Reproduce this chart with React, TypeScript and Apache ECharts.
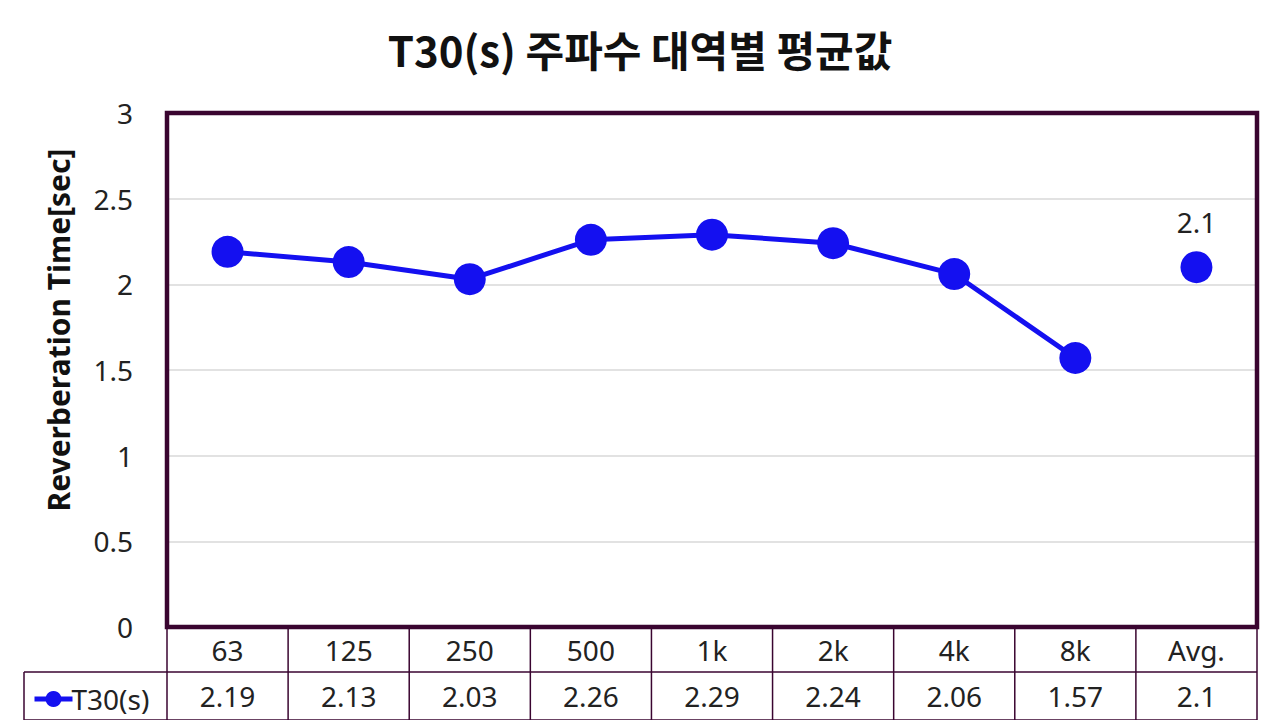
import React, { useEffect, useRef } from "react";
import * as echarts from "echarts";

const categories = ["63", "125", "250", "500", "1k", "2k", "4k", "8k", "Avg."];
const bandValues = [2.19, 2.13, 2.03, 2.26, 2.29, 2.24, 2.06, 1.57];
const avgValue = 2.1;
const tableValues = ["2.19", "2.13", "2.03", "2.26", "2.29", "2.24", "2.06", "1.57", "2.1"];
const seriesName = "T30(s)";
const titleText = "T30(s) 주파수 대역별 평균값";
const yAxisTitle = "Reverberation Time[sec]";

const W = 1280;
const H = 728;
const G_LEFT = 167;
const G_TOP = 113;
const G_RIGHT = 23;
const G_BOTTOM = 101;
const ROW1 = 45;
const ROW2 = 48;
const LEG_LEFT = 24;
const BORDER = "#3a0530";
const BLUE = "#1410f0";
const FONT = "'Noto Sans', 'Noto Sans CJK KR', sans-serif";
const TXT = 28;

export default function App() {
  const ref = useRef<HTMLDivElement>(null);
  useEffect(() => {
    if (!ref.current) return;
    const chart = echarts.init(ref.current, undefined, { renderer: "svg" });
    const plotRight = W - G_RIGHT;
    const plotBottom = H - G_BOTTOM;
    const colW = (plotRight - G_LEFT) / categories.length;
    const lines: any[] = [];
    const ls = { stroke: BORDER, lineWidth: 1.5 };
    lines.push({ type: "line", shape: { x1: LEG_LEFT, y1: plotBottom + ROW1, x2: plotRight, y2: plotBottom + ROW1 }, style: ls });
    lines.push({ type: "line", shape: { x1: LEG_LEFT, y1: plotBottom + ROW1 + ROW2, x2: plotRight, y2: plotBottom + ROW1 + ROW2 }, style: ls });
    lines.push({ type: "line", shape: { x1: LEG_LEFT, y1: plotBottom + ROW1, x2: LEG_LEFT, y2: plotBottom + ROW1 + ROW2 }, style: ls });
    for (let k = 0; k <= categories.length; k++) {
      const x = G_LEFT + k * colW;
      lines.push({ type: "line", shape: { x1: x, y1: plotBottom, x2: x, y2: plotBottom + ROW1 + ROW2 }, style: ls });
    }
    const frame = {
      type: "rect",
      z: 10,
      shape: { x: G_LEFT, y: G_TOP, width: plotRight - G_LEFT, height: plotBottom - G_TOP },
      style: { fill: "none", stroke: BORDER, lineWidth: 4.5 },
    };
    const mainData = categories.map((_, i) => (i < bandValues.length ? bandValues[i] : "-"));
    const avgData = categories.map((_, i) => (i === categories.length - 1 ? avgValue : "-"));

    chart.setOption({
      animation: false,
      backgroundColor: "#ffffff",
      title: {
        text: titleText,
        left: "center",
        top: 22,
        textStyle: { fontFamily: "'Noto Sans CJK KR', sans-serif", fontSize: 42, fontWeight: "bold", color: "#111" },
      },
      legend: {
        left: LEG_LEFT + 3,
        top: plotBottom + ROW1 + 8,
        itemWidth: 38,
        itemHeight: 20,
        itemGap: 0,
        data: [seriesName],
        lineStyle: { width: 5 },
        textStyle: { fontFamily: FONT, fontSize: TXT, color: "#222", padding: [0, 0, 0, -6] },
      },
      grid: {
        left: G_LEFT,
        top: G_TOP,
        right: G_RIGHT,
        bottom: G_BOTTOM,
        containLabel: false,
      },
      xAxis: {
        type: "category",
        data: categories,
        boundaryGap: true,
        axisLine: { show: false },
        axisTick: { show: false },
        axisLabel: {
          margin: 0,
          interval: 0,
          formatter: (v: string, i: number) => `{c|${v}}\n{v|${tableValues[i]}}`,
          rich: {
            c: { fontFamily: FONT, fontSize: TXT, color: "#222", height: ROW1, lineHeight: ROW1 },
            v: { fontFamily: FONT, fontSize: TXT, color: "#222", height: ROW2, lineHeight: ROW2 },
          },
        },
      },
      yAxis: {
        type: "value",
        min: 0,
        max: 3,
        interval: 0.5,
        axisLine: { show: false },
        axisTick: { show: false },
        splitLine: { lineStyle: { color: "#d9d9d9", width: 1.5 } },
        axisLabel: { margin: 34, fontFamily: FONT, fontSize: TXT, color: "#222" },
      },
      graphic: [
        {
          type: "text",
          x: 58,
          y: 330,
          rotation: Math.PI / 2,
          style: {
            text: yAxisTitle,
            fontFamily: FONT,
            fontSize: 30,
            fontWeight: "bold",
            fill: "#111",
            align: "center",
            verticalAlign: "middle",
          },
        },
        ...lines,
        frame,
      ],
      series: [
        {
          name: seriesName,
          type: "line",
          data: mainData,
          symbol: "circle",
          symbolSize: 32,
          itemStyle: { color: BLUE },
          lineStyle: { color: BLUE, width: 5 },
          z: 3,
        },
        {
          name: seriesName,
          type: "line",
          data: avgData,
          symbol: "circle",
          symbolSize: 32,
          itemStyle: { color: BLUE },
          lineStyle: { color: BLUE, width: 5 },
          label: {
            show: true,
            position: "top",
            distance: 15,
            fontFamily: FONT,
            fontSize: TXT,
            color: "#222",
          },
          z: 3,
        },
      ],
    });
    return () => chart.dispose();
  }, []);
  return <div ref={ref} style={{ width: W, height: H, margin: -8 }} />;
}
